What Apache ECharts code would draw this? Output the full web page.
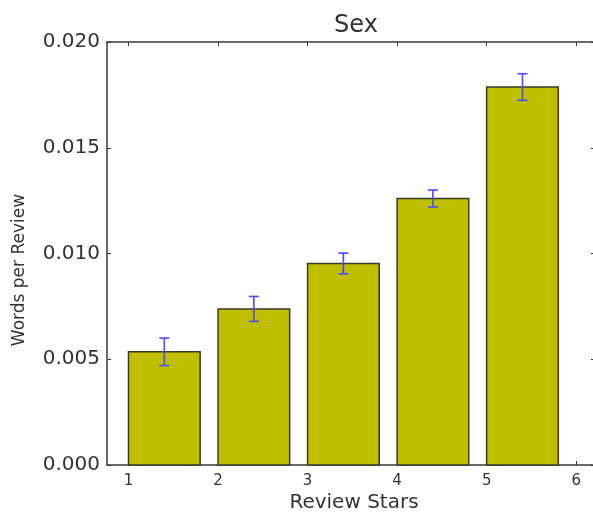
<!DOCTYPE html>
<html>
<head>
<meta charset="utf-8">
<script src="https://cdn.jsdelivr.net/npm/echarts@6/dist/echarts.min.js"></script>
<style>
  html, body { margin: 0; padding: 0; background: #ffffff; }
  #chart { width: 593px; height: 513px; }
</style>
</head>
<body>
<div id="chart"></div>
<script>
// Mean words per review by star rating, with standard-error bars
const stars = [1, 2, 3, 4, 5];
const wordsPerReview = [0.00535, 0.00738, 0.00953, 0.0126, 0.01787];
const stdErr = [0.00065, 0.00059, 0.00049, 0.0004, 0.00063];
const xTicks = [1, 2, 3, 4, 5, 6];
const yTicks = [0, 0.005, 0.010, 0.015, 0.020];

const BAR_WIDTH = 0.8;      // in data units, bar starts at its star value
const textColor = '#333333';
const spineColor = '#3a3a3a';
const font = 'DejaVu Sans';

const barData = stars.map((s, i) => [s, wordsPerReview[i]]);
const errData = stars.map((s, i) => [s + BAR_WIDTH / 2, wordsPerReview[i], stdErr[i]]);

const chart = echarts.init(document.getElementById('chart'), null, { renderer: 'canvas' });

const xBase = {
  type: 'value', min: 0.76, max: 6.21,
  splitLine: { show: false },
  axisLine: { show: true, onZero: false, lineStyle: { color: spineColor, width: 1.5 } },
  axisTick: { show: true, inside: true, length: 4, customValues: xTicks, lineStyle: { color: spineColor, width: 1 } }
};
const yBase = {
  type: 'value', min: 0, max: 0.02, interval: 0.005,
  splitLine: { show: false },
  axisLine: { show: true, onZero: false, lineStyle: { color: spineColor, width: 1.5 } },
  axisTick: { show: true, inside: true, length: 4, lineStyle: { color: spineColor, width: 1 } }
};

chart.setOption({
  animation: false,
  backgroundColor: '#ffffff',
  title: {
    text: 'Sex', left: 351, top: 9, textAlign: 'center',
    textStyle: { fontFamily: font, fontSize: 24, fontWeight: 'normal', color: textColor }
  },
  grid: { left: 107, top: 42, width: 488, height: 423, containLabel: false, outerBoundsMode: 'none' },
  xAxis: [
    Object.assign({}, xBase, {
      position: 'bottom',
      axisLabel: { show: true, customValues: xTicks, margin: 9, fontFamily: font, fontSize: 15, color: textColor,
        formatter: v => String(Math.round(v)) }
    }),
    Object.assign({}, xBase, { position: 'top', axisLabel: { show: false } })
  ],
  yAxis: [
    Object.assign({}, yBase, {
      position: 'left',
      axisLabel: { show: true, margin: 7, fontFamily: font, fontSize: 20, color: textColor,
        formatter: v => v.toFixed(3) }
    }),
    Object.assign({}, yBase, { position: 'right', axisLabel: { show: false } })
  ],
  graphic: [
    {
      type: 'text', x: 20, y: 270, rotation: Math.PI / 2,
      style: { text: 'Words per Review', fontFamily: font, fontSize: 17, fill: textColor,
        align: 'center', verticalAlign: 'middle' }
    },
    {
      type: 'text', x: 354, y: 503,
      style: { text: 'Review Stars', fontFamily: font, fontSize: 20, fill: textColor,
        align: 'center', verticalAlign: 'middle' }
    }
  ],
  series: [
    {
      type: 'custom', name: 'bars', xAxisIndex: 0, yAxisIndex: 0,
      data: barData,
      renderItem: function (params, api) {
        const x = api.value(0), v = api.value(1);
        const p0 = api.coord([x, 0]);
        const p1 = api.coord([x + BAR_WIDTH, v]);
        return {
          type: 'rect',
          shape: { x: p0[0], y: p1[1], width: p1[0] - p0[0], height: p0[1] - p1[1] },
          style: { fill: '#bfbf00', stroke: '#3a3a2a', lineWidth: 1.5 }
        };
      }
    },
    {
      type: 'custom', name: 'error', xAxisIndex: 0, yAxisIndex: 0,
      data: errData, z: 5,
      renderItem: function (params, api) {
        const x = api.value(0), v = api.value(1), e = api.value(2);
        const top = api.coord([x, v + e]);
        const bot = api.coord([x, v - e]);
        const cap = 5;
        const st = { stroke: '#4a4aff', lineWidth: 1.6 };
        return {
          type: 'group',
          children: [
            { type: 'line', shape: { x1: top[0], y1: top[1], x2: bot[0], y2: bot[1] }, style: st },
            { type: 'line', shape: { x1: top[0] - cap, y1: top[1], x2: top[0] + cap, y2: top[1] }, style: st },
            { type: 'line', shape: { x1: bot[0] - cap, y1: bot[1], x2: bot[0] + cap, y2: bot[1] }, style: st }
          ]
        };
      }
    }
  ]
});
</script>
</body>
</html>
